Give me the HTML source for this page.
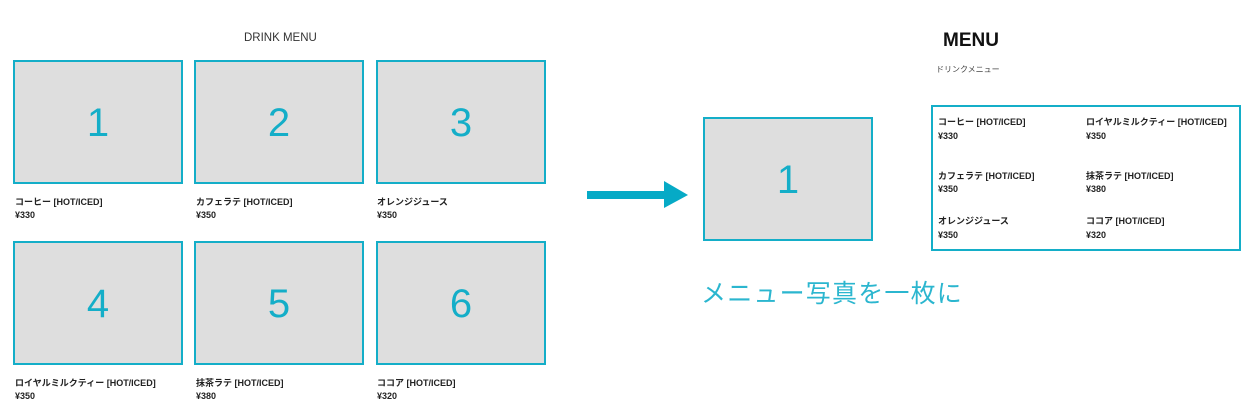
<!DOCTYPE html>
<html><head><meta charset="utf-8"><style>
body{margin:0;width:1250px;height:411px;background:#fff;position:relative;overflow:hidden;font-family:"Liberation Sans","Noto Sans CJK JP",sans-serif;}
.a{position:absolute;}
.box{position:absolute;box-sizing:border-box;border:2.5px solid #14aec8;background:#dedede;color:#14aec8;font-size:40px;display:flex;align-items:center;justify-content:center;width:170px;height:124px;padding-top:2px;}
.n{position:absolute;font-size:9px;font-weight:bold;color:#222;white-space:nowrap;}
</style></head><body>
<div class="a" style="left:244px;top:32px;font-size:11.5px;color:#333;">DRINK MENU</div>
<div class="box" style="left:13px;top:60px">1</div>
<div class="box" style="left:194px;top:60px">2</div>
<div class="box" style="left:376px;top:60px">3</div>
<div class="box" style="left:13px;top:241px">4</div>
<div class="box" style="left:194px;top:241px">5</div>
<div class="box" style="left:376px;top:241px">6</div>
<div class="n" style="left:15px;top:195px">コーヒー [HOT/ICED]</div><div class="n" style="left:15px;top:210px">¥330</div>
<div class="n" style="left:196px;top:195px">カフェラテ [HOT/ICED]</div><div class="n" style="left:196px;top:210px">¥350</div>
<div class="n" style="left:377px;top:195px">オレンジジュース</div><div class="n" style="left:377px;top:210px">¥350</div>
<div class="n" style="left:15px;top:376px">ロイヤルミルクティー [HOT/ICED]</div><div class="n" style="left:15px;top:391px">¥350</div>
<div class="n" style="left:196px;top:376px">抹茶ラテ [HOT/ICED]</div><div class="n" style="left:196px;top:391px">¥380</div>
<div class="n" style="left:377px;top:376px">ココア [HOT/ICED]</div><div class="n" style="left:377px;top:391px">¥320</div>
<svg class="a" style="left:0;top:0" width="1250" height="411"><rect x="587" y="191" width="78" height="8" fill="#06aac6"/><polygon points="664,181 688,195 664,208" fill="#06aac6"/></svg>
<div class="box" style="left:703px;top:117px">1</div>
<div class="a" style="left:701px;top:274px;font-size:25px;letter-spacing:1.2px;color:#2bb6cf;white-space:nowrap;">メニュー写真を一枚に</div>
<div class="a" style="left:943px;top:30px;font-size:19px;font-weight:bold;color:#111;">MENU</div>
<div class="a" style="left:936px;top:64px;font-size:8px;color:#444;">ドリンクメニュー</div>
<div class="a" style="left:931px;top:105px;width:310px;height:146px;box-sizing:border-box;border:2.5px solid #14aec8;"></div>
<div class="n" style="left:938px;top:115px">コーヒー [HOT/ICED]</div><div class="n" style="left:938px;top:131px">¥330</div>
<div class="n" style="left:1086px;top:115px">ロイヤルミルクティー [HOT/ICED]</div><div class="n" style="left:1086px;top:131px">¥350</div>
<div class="n" style="left:938px;top:169px">カフェラテ [HOT/ICED]</div><div class="n" style="left:938px;top:184px">¥350</div>
<div class="n" style="left:1086px;top:169px">抹茶ラテ [HOT/ICED]</div><div class="n" style="left:1086px;top:184px">¥380</div>
<div class="n" style="left:938px;top:214px">オレンジジュース</div><div class="n" style="left:938px;top:230px">¥350</div>
<div class="n" style="left:1086px;top:214px">ココア [HOT/ICED]</div><div class="n" style="left:1086px;top:230px">¥320</div>
</body></html>
